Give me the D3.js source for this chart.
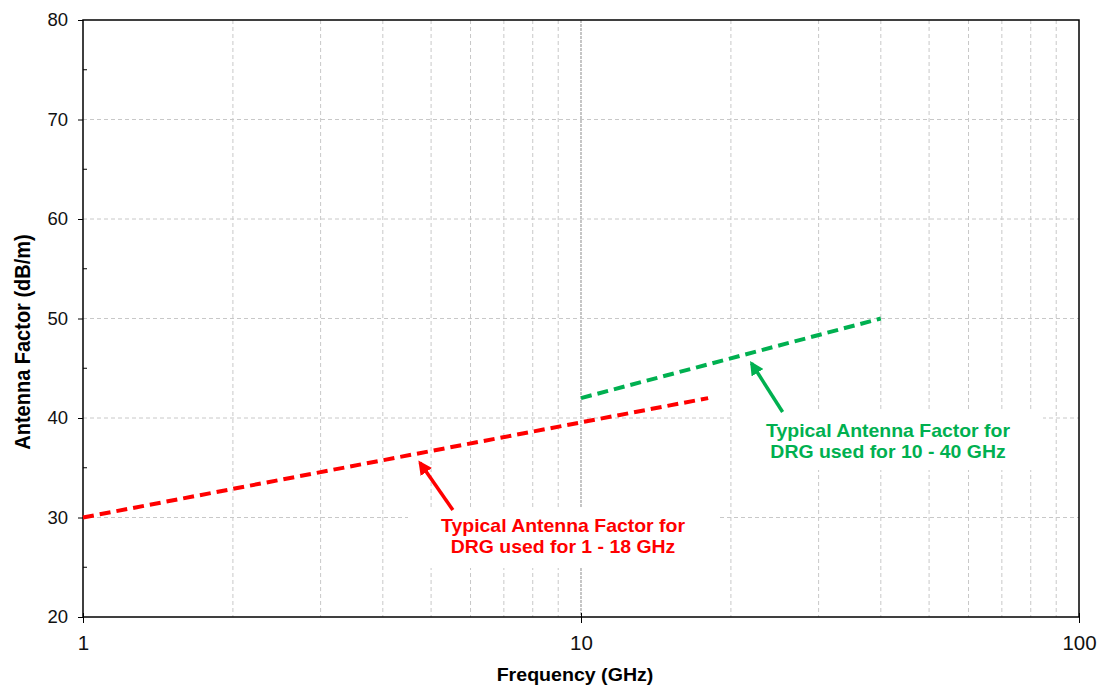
<!DOCTYPE html>
<html><head><meta charset="utf-8">
<script src="https://cdn.jsdelivr.net/npm/d3@7"></script>
<style>body{margin:0;background:#fff;font-family:"Liberation Sans",Arial,sans-serif}</style>
</head><body><svg id="c" width="1100" height="686"></svg>
<script>
const redFreq = [1, 18];
const redAF = [30, 42];
const greenFreq = [10, 40];
const greenAF = [42, 50];
const xTicks = [1, 10, 100];
const yTicks = [20, 30, 40, 50, 60, 70, 80];
const yMinor = [25, 35, 45, 55, 65, 75];
const redLabel = ["Typical Antenna Factor for", "DRG used for 1 - 18 GHz"];
const greenLabel = ["Typical Antenna Factor for", "DRG used for 10 - 40 GHz"];
const redArrow = {from: [5.53, 30.75], to: [4.75, 35.5]};
const greenArrow = {from: [25.4, 40.6], to: [22.0, 45.5]};

const svg = d3.select("#c");
const L = 83, R = 1079, T = 20, B = 617;
const x = d3.scaleLog().domain([1, 100]).range([L, R]);
const y = d3.scaleLinear().domain([20, 80]).range([B, T]);
const font = '"Liberation Sans",Arial,sans-serif';

// vertical minor grid
const minorX = [];
for (const d of [1, 10]) for (let k = 2; k <= 9; k++) minorX.push(d * k);
svg.append("g").selectAll("line").data(minorX).join("line")
  .attr("x1", d => x(d)).attr("x2", d => x(d)).attr("y1", T).attr("y2", B)
  .attr("stroke", "#c8c8c8").attr("stroke-width", 1).attr("stroke-dasharray", "4,3");
svg.append("line").attr("x1", x(10)).attr("x2", x(10)).attr("y1", T).attr("y2", B)
  .attr("stroke", "#a0a0a0").attr("stroke-width", 1.2).attr("stroke-dasharray", "3,1");
svg.append("g").selectAll("line").data(yTicks.slice(1, -1)).join("line")
  .attr("x1", L).attr("x2", R).attr("y1", d => y(d)).attr("y2", d => y(d))
  .attr("stroke", "#c8c8c8").attr("stroke-width", 1).attr("stroke-dasharray", "4,3");

// white label boxes
svg.append("rect").attr("x", 408).attr("y", 508).attr("width", 309).attr("height", 60).attr("fill", "#fff");
svg.append("rect").attr("x", 732).attr("y", 409).attr("width", 311).attr("height", 61).attr("fill", "#fff");

// frame
svg.append("rect").attr("x", L).attr("y", T).attr("width", R - L).attr("height", B - T)
  .attr("fill", "none").attr("stroke", "#000").attr("stroke-width", 1.5);

// y axis
const ya = d3.axisLeft(y).tickValues(yTicks).tickSize(5).tickPadding(10).tickFormat(d3.format("d"));
const gy = svg.append("g").attr("transform", `translate(${L},0)`).call(ya);
gy.select(".domain").remove();
gy.selectAll("text").attr("font-size", 18.5).attr("font-family", font).attr("fill", "#111");
svg.append("g").selectAll("line").data(yMinor).join("line")
  .attr("x1", L).attr("x2", L + 4).attr("y1", d => y(d)).attr("y2", d => y(d))
  .attr("stroke", "#000");

// x axis
const xa = d3.axisBottom(x).tickValues(xTicks).tickSize(6).tickPadding(12).tickFormat(d3.format("d"));
const gx = svg.append("g").attr("transform", `translate(0,${B})`).call(xa);
gx.select(".domain").remove();
gx.selectAll("text").attr("font-size", 20.5).attr("font-family", font).attr("fill", "#111");
gx.selectAll("line").attr("y1", -4);

// titles
svg.append("text").attr("transform", "translate(575,681) scale(1.12,1)").attr("text-anchor", "middle")
  .attr("font-size", 17.5).attr("font-weight", "bold").attr("font-family", font).text("Frequency (GHz)");
svg.append("text").attr("transform", "translate(30,342) rotate(-90) scale(1,1.12)").attr("text-anchor", "middle")
  .attr("font-size", 20).attr("font-weight", "bold").attr("font-family", font).text("Antenna Factor (dB/m)");

// series
const line = d3.line().x(d => x(d[0])).y(d => y(d[1]));
svg.append("path").datum(redFreq.map((f, i) => [f, redAF[i]])).attr("d", line)
  .attr("fill", "none").attr("stroke", "#ff0000").attr("stroke-width", 4).attr("stroke-dasharray", "11,6");
svg.append("path").datum(greenFreq.map((f, i) => [f, greenAF[i]])).attr("d", line)
  .attr("fill", "none").attr("stroke", "#00b050").attr("stroke-width", 4).attr("stroke-dasharray", "11,6");

// arrows
const defs = svg.append("defs");
function marker(id, color) {
  defs.append("marker").attr("id", id).attr("viewBox", "0 0 10 10").attr("refX", 8).attr("refY", 5)
    .attr("markerWidth", 4).attr("markerHeight", 4).attr("orient", "auto").attr("markerUnits", "strokeWidth")
    .append("path").attr("d", "M0,0 L10,5 L0,10 z").attr("fill", color);
}
marker("ar", "#ff0000"); marker("ag", "#00b050");
function arrow(a, color, m) {
  svg.append("line").attr("x1", x(a.from[0])).attr("y1", y(a.from[1]))
    .attr("x2", x(a.to[0])).attr("y2", y(a.to[1]))
    .attr("stroke", color).attr("stroke-width", 3.5).attr("marker-end", `url(#${m})`);
}
arrow(redArrow, "#ff0000", "ar");
arrow(greenArrow, "#00b050", "ag");

// labels
function label(lines, cx, y0, color) {
  svg.append("g").selectAll("text").data(lines).join("text")
    .attr("transform", (d, i) => `translate(${cx},${y0 + i * 21}) scale(1.08,1)`).attr("text-anchor", "middle")
    .attr("font-size", 18).attr("font-weight", "bold").attr("font-family", font).attr("fill", color).text(d => d);
}
label(redLabel, 563, 532, "#ff0000");
label(greenLabel, 888, 437, "#00b050");
</script></body></html>
